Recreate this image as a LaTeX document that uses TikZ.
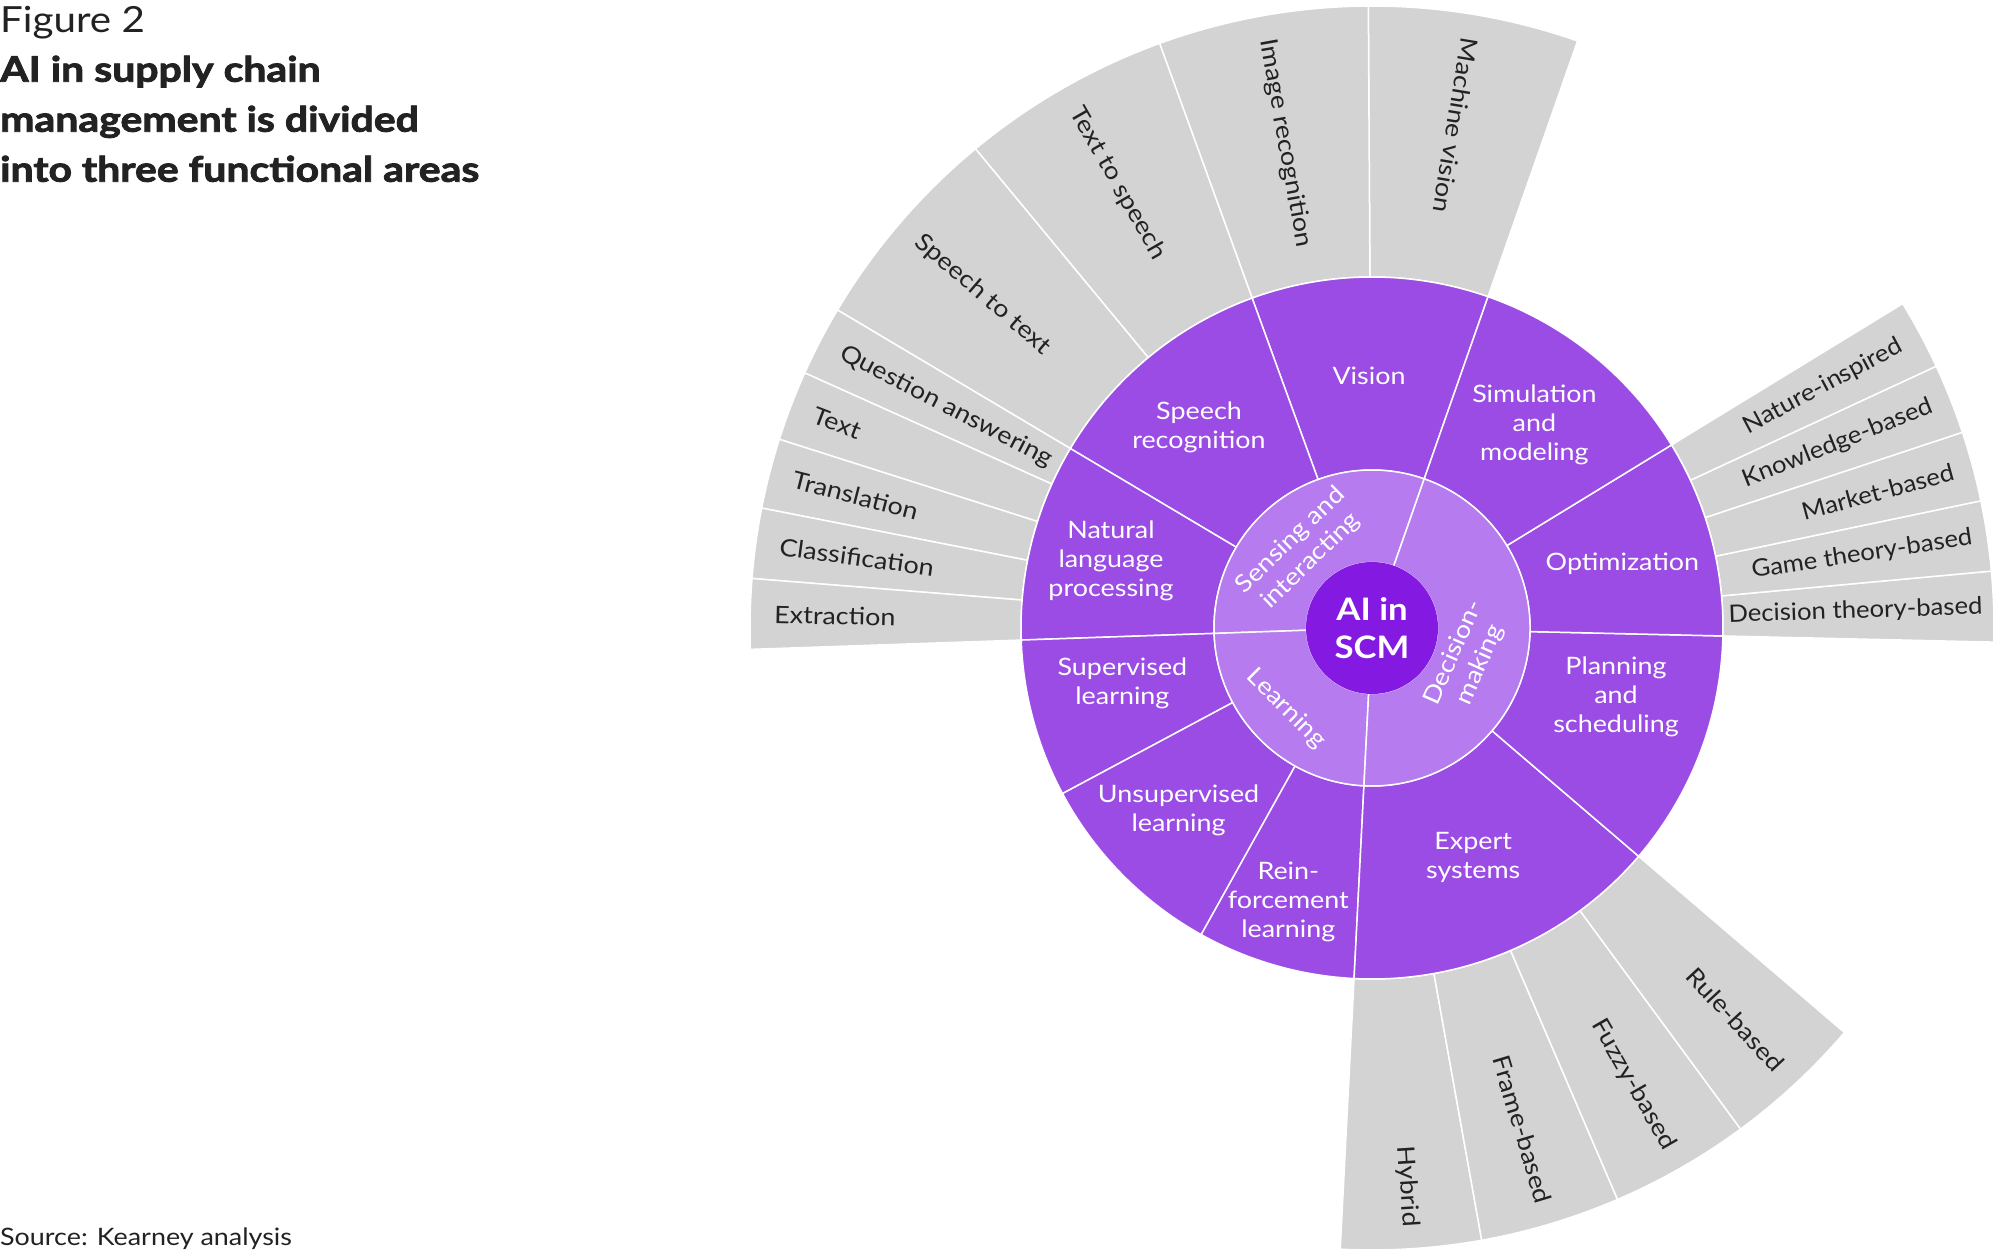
\documentclass[tikz,border=0pt]{standalone}
\usepackage{fontspec}
\setmainfont{Lato}[FakeStretch=1.12]
\newfontfamily\narrowfont{Lato}[FakeStretch=1.07]
\newfontfamily\titlefont{Lato}[FakeStretch=1.17,BoldFeatures={FakeBold=2.4}]
\usetikzlibrary{calc}
\definecolor{coreviolet}{HTML}{8419E1}
\definecolor{midviolet}{HTML}{B57BEF}
\definecolor{ringviolet}{HTML}{9B4CE4}
\definecolor{leafgray}{HTML}{D3D3D3}
\definecolor{ink}{HTML}{222222}
\newcommand\sunsector[5]{%
  \filldraw[seg,fill=#1] ($(C)+(#2:#4)$) arc[start angle=#2,end angle=#3,radius=#4]
    -- ($(C)+(#3:#5)$) arc[start angle=#3,end angle=#2,radius=#5] -- cycle;}
\begin{document}
\begin{tikzpicture}[x=1pt,y=1pt,
  seg/.style={draw=white,line width=1.5pt,line join=round},
  lab/.style={text=white,font=\fontsize{24}{29}\selectfont,align=center,inner sep=0pt},
  leafin/.style={text=ink,font=\fontsize{24}{29}\selectfont,inner sep=0pt,anchor=west},
  leafout/.style={text=ink,font=\fontsize{24}{29}\selectfont,inner sep=0pt,anchor=east},
  leafnarrow/.style={text=ink,font=\narrowfont\fontsize{24}{29}\selectfont,inner sep=0pt,anchor=east},
  ttl/.style={text=ink,inner sep=0pt,anchor=base west}]
\useasboundingbox (0,0) rectangle (2000,1254);
\fill[white] (0,0) rectangle (2000,1254);
\coordinate (C) at (1372,626);
% outer gray leaves
\foreach \a/\b in {70.7/90.34,90.34/109.97,109.97/129.61,129.61/149.25,
  149.25/155.79,155.79/162.34,162.34/168.88,168.88/175.43,175.43/181.97,
  267.07/280.16,280.16/293.25,293.25/306.34,306.34/319.43,
  358.70/365.25,365.25/371.80,371.80/378.34,378.34/384.89,384.89/391.43}
  {\sunsector{leafgray}{\a}{\b}{351}{622}}
% purple ring
\foreach \a/\b in {70.7/109.97,109.97/149.25,149.25/181.97,181.97/208.15,208.15/240.88,
  240.88/267.07,267.07/319.43,319.43/358.70,358.70/391.43,391.43/430.7}
  {\sunsector{ringviolet}{\a}{\b}{158}{351}}
% inner ring
\foreach \a/\b in {70.7/181.97,181.97/267.07,267.07/430.7}
  {\sunsector{midviolet}{\a}{\b}{65.5}{158}}
\fill[coreviolet] (C) circle (66);
\node[text=white,font=\bfseries\fontsize{31}{37.7}\selectfont,align=center,inner sep=0pt] (core) at (C) {AI in\\SCM};
% inner ring labels
\node[lab,rotate=44] (sensing) at ($(C)+(132.7:105)$) {Sensing and\\interacting};
\node[lab,rotate=-45] (learning) at ($(C)+(223.3:118)$) {Learning};
\node[lab,rotate=66] (decision) at ($(C)+(-18:100)$) {Decision-\\making};
% purple ring labels
\node[lab] (vision) at (1369,877.7) {Vision};
\node[lab] (speech) at (1199,827) {Speech\\recognition};
\node[lab] (simulation) at (1534.4,829.3) {Simulation\\and\\modeling};
\node[lab] (nlp) at (1111,692.8) {Natural\\language\\processing};
\node[lab] (optimization) at (1622.4,690.2) {Optimization};
\node[lab] (supervised) at (1122.4,570.3) {Supervised\\learning};
\node[lab] (planning) at (1616,557.6) {Planning\\and\\scheduling};
\node[lab] (unsupervised) at (1178.6,444) {Unsupervised\\learning};
\node[lab] (expert) at (1473.2,396.9) {Expert\\systems};
\node[lab] (reinforcement) at (1288.3,352.2) {Rein-\\forcement\\learning};
% gray leaf labels reading inward
\foreach \t/\n/\l in {80.52/mv/Machine vision,100.15/ir/Image recognition,119.79/tts/Text to speech,
  139.43/stt/Speech to text,152.52/qa/Question answering,159.06/txt/Text,165.61/tr/Translation,
  172.15/cl/Classification,178.70/ex/Extraction}
  {\node[leafin,rotate=\t-180] (leaf-\n) at ($(C)+(\t:598)$) {\l};}
% gray leaf labels reading outward
\foreach \t/\n/\l in {273.61/hy/Hybrid,286.70/fr/Frame-based,299.79/fu/Fuzzy-based,312.88/ru/Rule-based}
  {\node[leafout,rotate=\t] (leaf-\n) at ($(C)+(\t:600)$) {\l};}
\foreach \t/\n/\l/\r in {1.97/dt/Decision theory-based/611,8.52/gt/Game theory-based/607,15.07/mk/Market-based/602,
  21.61/kb/Knowledge-based/602,28.16/ni/Nature-inspired/600}
  {\node[leafnarrow,rotate=\t] (leaf-\n) at ($(C)+(\t:\r)$) {\l};}
% titles
\node[ttl,font=\fontsize{36}{40}\selectfont] (fig) at (0,1221) {Figure 2};
\node[ttl,font=\titlefont\bfseries\fontsize{35}{50}\selectfont] (title1) at (0,1172.3) {AI in supply chain};
\node[ttl,font=\titlefont\bfseries\fontsize{35}{50}\selectfont] (title2) at (0,1122.3) {management is divided};
\node[ttl,font=\titlefont\bfseries\fontsize{35}{50}\selectfont] (title3) at (0,1072.3) {into three functional areas};
\node[ttl,font=\fontsize{24}{28}\selectfont] (source) at (0,9) {Source: Kearney analysis};
\end{tikzpicture}
\end{document}
